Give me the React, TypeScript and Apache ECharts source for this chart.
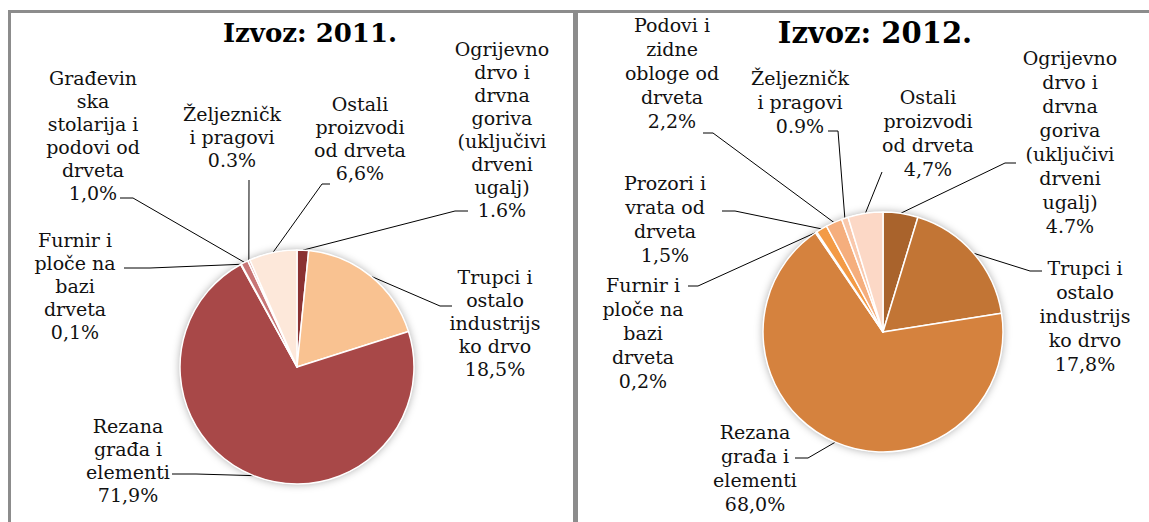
import React, { useEffect, useRef } from "react";
import * as echarts from "echarts";

// ---------- 2011 ----------
const names2011 = [
  "Ogrijevno\ndrvo i\ndrvna\ngoriva\n(uključivi\ndrveni\nugalj)",
  "Trupci i\nostalo\nindustrijs\nko drvo",
  "Rezana\ngrađa i\nelementi",
  "Furnir i\nploče na\nbazi\ndrveta",
  "Građevin\nska\nstolarija i\npodovi od\ndrveta",
  "Željezničk\ni pragovi",
  "Ostali\nproizvodi\nod drveta",
];
const values2011 = [1.6, 18.5, 71.9, 0.1, 1.0, 0.3, 6.6];
const decimalMarks2011 = [".", ",", ",", ",", ",", ".", ","];
const colors2011 = ["#8B3232", "#F9C291", "#A84848", "#B35454", "#C87676", "#DC9A9A", "#FDE8DA"];

// ---------- 2012 ----------
const names2012 = [
  "Ogrijevno\ndrvo i\ndrvna\ngoriva\n(uključivi\ndrveni\nugalj)",
  "Trupci i\nostalo\nindustrijs\nko drvo",
  "Rezana\ngrađa i\nelementi",
  "Furnir i\nploče na\nbazi\ndrveta",
  "Prozori i\nvrata od\ndrveta",
  "Podovi i\nzidne\nobloge od\ndrveta",
  "Željezničk\ni pragovi",
  "Ostali\nproizvodi\nod drveta",
];
const values2012 = [4.7, 17.8, 68.0, 0.2, 1.5, 2.2, 0.9, 4.7];
const decimalMarks2012 = [".", ",", ",", ",", ",", ",", ".", ","];
const colors2012 = ["#A9632C", "#C27535", "#D5823E", "#E38C40", "#F39A45", "#F5AE7D", "#F9C8AC", "#FCD8C6"];

const titles = ["Izvoz: 2011.", "Izvoz: 2012."];

// label placement (layout only): x = text centre, y = text top, bend/end = leader line
const labelPos2011 = [
  { x: 502, y: 37, bend: [455, 211], end: [468, 211] },
  { x: 495, y: 265, bend: [440, 306], end: [452, 306] },
  { x: 128, y: 414, bend: [196, 474], end: [172, 474] },
  { x: 75, y: 228, bend: [150, 268], end: [124, 268] },
  { x: 93, y: 66, bend: [133, 198], end: [120, 198] },
  { x: 232, y: 102, bend: [249, 180], end: [249, 180] },
  { x: 360, y: 92, bend: [322, 184], end: [330, 184] },
];
const labelPos2012 = [
  { x: 1070, y: 46, bend: [1005, 163], end: [1016, 163] },
  { x: 1085, y: 256, bend: [1030, 271], end: [1042, 271] },
  { x: 755, y: 420, bend: [808, 458], end: [795, 458] },
  { x: 643, y: 273, bend: [698, 286], end: [688, 286] },
  { x: 665, y: 171, bend: [735, 211], end: [722, 211] },
  { x: 672, y: 13, bend: [713, 133], end: [703, 133] },
  { x: 800, y: 66, bend: [838, 131], end: [828, 131] },
  { x: 928, y: 85, bend: [882, 172], end: [882, 172] },
];

const FONT = "DejaVu Serif";

function fmt(v: number, mark: string) {
  return v.toFixed(1).replace(".", mark) + "%";
}

function buildPie(
  names: string[],
  values: number[],
  marks: string[],
  colors: string[],
  pos: { x: number; y: number; bend: number[]; end: number[] }[],
  center: number[],
  radius: number,
  lineHeight: number
) {
  return {
    type: "pie",
    z: 3,
    center,
    radius,
    startAngle: 90,
    clockwise: true,
    silent: true,
    avoidLabelOverlap: false,
    itemStyle: { borderColor: "#ffffff", borderWidth: 1.5 },
    label: {
      show: true,
      position: "outside",
      alignTo: "none",
      overflow: "none",
      fontFamily: FONT,
      fontSize: 19,
      lineHeight,
      color: "#111",
      align: "center",
      formatter: (p: any) => {
        const lines = (p.name + "\n" + fmt(values[p.dataIndex], marks[p.dataIndex])).split("\n");
        return lines.map((l: string) => "{t|" + l + "}").join("\n");
      },
      rich: {
        t: {
          fontFamily: FONT,
          fontSize: 19,
          lineHeight,
          color: "#111",
          align: "center",
        },
      },
    },
    labelLine: {
      show: true,
      length: 10,
      length2: 10,
      smooth: false,
      lineStyle: { color: "#000", width: 1 },
    },
    labelLayout: (params: any) => {
      const p = pos[params.dataIndex];
      const pts = params.labelLinePoints;
      const res: any = { x: p.x, y: p.y, align: "center", verticalAlign: "top" };
      if (pts && pts.length) {
        res.labelLinePoints = [[pts[0][0], pts[0][1]], p.bend, p.end];
      }
      return res;
    },
    data: names.map((n, i) => ({ name: n, value: values[i], itemStyle: { color: colors[i] } })),
  };
}

function shadowPie(center: number[], radius: number) {
  return {
    type: "pie",
    z: 1,
    center,
    radius,
    silent: true,
    label: { show: false },
    labelLine: { show: false },
    itemStyle: {
      color: "#ffffff",
      shadowBlur: 9,
      shadowColor: "rgba(0,0,0,0.35)",
    },
    data: [{ value: 1, name: "" }],
  };
}

export default function App() {
  const ref = useRef<HTMLDivElement>(null);
  useEffect(() => {
    if (!ref.current) return;
    const chart = echarts.init(ref.current, null, { renderer: "svg" });
    const c1 = [297, 367];
    const c2 = [883, 332];
    chart.setOption({
      animation: false,
      backgroundColor: "#ffffff",
      title: [
        {
          text: titles[0],
          left: 305,
          top: 15,
          textAlign: "center",
          textStyle: { fontFamily: FONT, fontSize: 26, fontWeight: "bold", color: "#000" },
        },
        {
          text: titles[1],
          left: 870,
          top: 13,
          textAlign: "center",
          textStyle: { fontFamily: FONT, fontSize: 29, fontWeight: "bold", color: "#000" },
        },
      ],
      graphic: [
        { type: "rect", shape: { x: 8, y: 10, width: 1141, height: 3 }, style: { fill: "#8c8c8c" }, silent: true },
        { type: "rect", shape: { x: 8, y: 10, width: 3, height: 512 }, style: { fill: "#8c8c8c" }, silent: true },
        { type: "rect", shape: { x: 573, y: 10, width: 5, height: 512 }, style: { fill: "#8c8c8c" }, silent: true },
      ],
      series: [
        shadowPie(c1, 117),
        buildPie(names2011, values2011, decimalMarks2011, colors2011, labelPos2011, c1, 117, 23),
        shadowPie(c2, 120),
        buildPie(names2012, values2012, decimalMarks2012, colors2012, labelPos2012, c2, 120, 24),
      ],
    });
    return () => chart.dispose();
  }, []);
  return (
    <div
      ref={ref}
      style={{ position: "absolute", left: 0, top: 0, width: 1149, height: 522 }}
    />
  );
}
